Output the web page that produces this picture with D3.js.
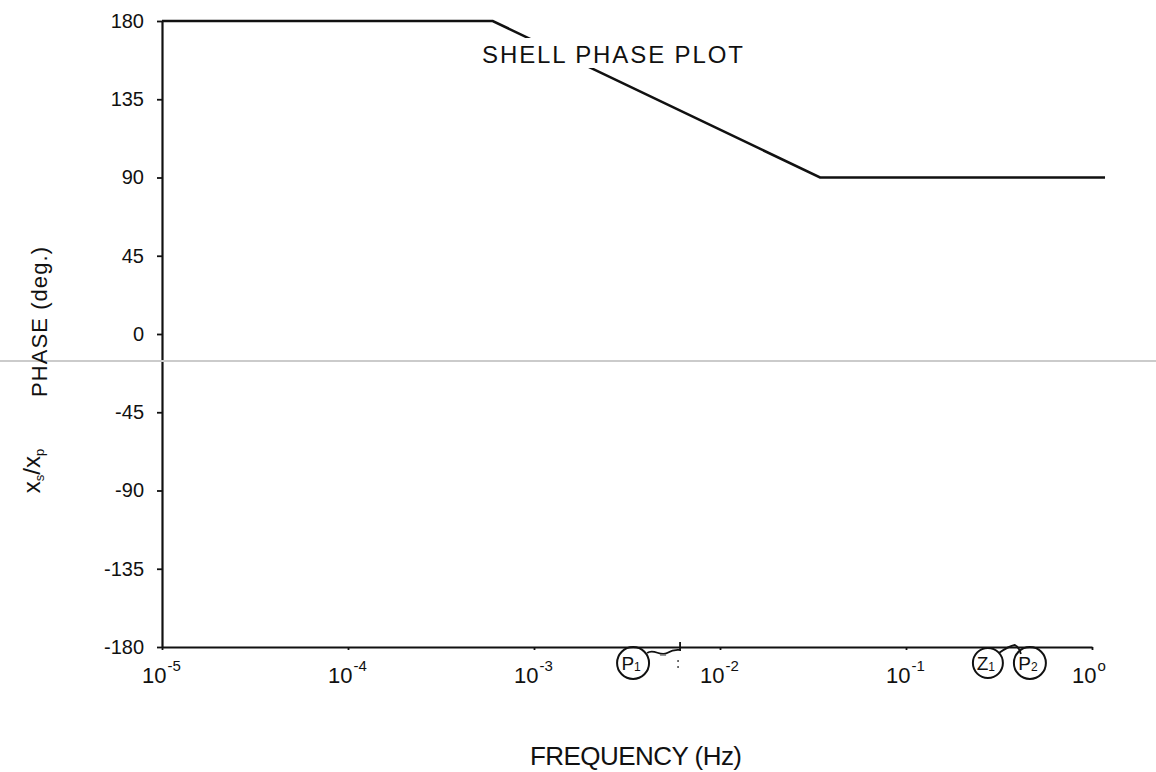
<!DOCTYPE html>
<html>
<head>
<meta charset="utf-8">
<script src="https://cdn.jsdelivr.net/npm/d3@7"></script>
<style>
  body { margin: 0; background: #fff; }
  text { font-family: "Liberation Sans", "DejaVu Sans", sans-serif; fill: #111; }
</style>
</head>
<body>
<div id="chart"></div>
<script>
// chart values
var freqTicks = [1e-5, 1e-4, 1e-3, 1e-2, 1e-1, 1];
var freqExponents = ["-5", "-4", "-3", "-2", "-1", "o"];
var phaseTicks = [180, 135, 90, 45, 0, -45, -90, -135, -180];

// asymptotic phase curve (break points)
var curveFreq = [1e-5, 6.0e-4, 0.0345, 1.175];
var curvePhase = [180, 180, 90, 90];

// pole / zero markers on the frequency axis
var markerFreq = [0.0061, 0.385];
var markerLabels = [[["P", "1"]], [["Z", "1"], ["P", "2"]]];

// faint fold line of the scanned page (phase value where it crosses)
var foldPhase = -15.5;

var svgWidth = 1156;
var svgHeight = 772;

var chartMargin = { top: 21, right: 64, bottom: 125, left: 162 };
var chartWidth = svgWidth - chartMargin.left - chartMargin.right;
var chartHeight = svgHeight - chartMargin.top - chartMargin.bottom;

var svg = d3.select("#chart")
    .append("svg")
    .attr("width", svgWidth)
    .attr("height", svgHeight);

svg.append("rect").attr("width", svgWidth).attr("height", svgHeight).attr("fill", "#fff");

var chartGroup = svg.append("g")
    .attr("transform", `translate(${chartMargin.left}, ${chartMargin.top})`);

var xScale = d3.scaleLog()
    .domain([1e-5, 1])
    .range([0, chartWidth]);

var yScale = d3.scaleLinear()
    .domain([-180, 180])
    .range([chartHeight, 0]);

// fold line across the whole page
svg.append("line")
    .attr("x1", 0).attr("x2", svgWidth)
    .attr("y1", chartMargin.top + yScale(foldPhase))
    .attr("y2", chartMargin.top + yScale(foldPhase))
    .attr("stroke", "#cbcbcb")
    .attr("stroke-width", 2);

// y axis
var yAxis = d3.axisLeft(yScale)
    .tickValues(phaseTicks)
    .tickSize(5)
    .tickSizeOuter(0)
    .tickPadding(13)
    .tickFormat(d => String(d));

var yG = chartGroup.append("g").call(yAxis);
yG.select(".domain").attr("stroke", "#111").attr("stroke-width", 2.2);
yG.selectAll(".tick line").attr("stroke", "#111").attr("stroke-width", 1.8);
yG.selectAll(".tick text")
    .style("font-size", "20px")
    .attr("fill", "#111");

// x axis
var xAxis = d3.axisBottom(xScale)
    .tickValues(freqTicks)
    .tickSize(3)
    .tickSizeOuter(0)
    .tickFormat("");

var xG = chartGroup.append("g")
    .attr("transform", `translate(0, ${chartHeight})`)
    .call(xAxis);
xG.select(".domain").attr("stroke", "#111").attr("stroke-width", 2.2);
xG.selectAll(".tick line").attr("stroke", "#111").attr("stroke-width", 1.8);

var xLabels = chartGroup.selectAll(".xlab")
    .data(freqTicks)
    .enter()
    .append("text")
    .attr("class", "xlab")
    .attr("x", d => xScale(d) - 20)
    .attr("y", chartHeight + 36)
    .style("font-size", "22px");
xLabels.append("tspan").text("10");
xLabels.append("tspan")
    .attr("dy", -12)
    .attr("dx", 1)
    .style("font-size", "15px")
    .text((d, i) => freqExponents[i]);

// phase curve
var line = d3.line()
    .x(d => xScale(d[0]))
    .y(d => yScale(d[1]));

chartGroup.append("path")
    .datum(curveFreq.map((f, i) => [f, curvePhase[i]]))
    .attr("d", line)
    .attr("fill", "none")
    .attr("stroke", "#111")
    .attr("stroke-width", 2.5);

// title, with a gap cut out of the curve behind it
svg.append("rect")
    .attr("x", 474).attr("y", 38)
    .attr("width", 280).attr("height", 30)
    .attr("fill", "#fff");

svg.append("text")
    .attr("x", 482)
    .attr("y", 63)
    .attr("textLength", 261)
    .style("font-size", "24px")
    .text("SHELL PHASE PLOT");

// y axis label
svg.append("text")
    .attr("transform", "translate(47, 322) rotate(-90)")
    .attr("text-anchor", "middle")
    .attr("textLength", 150)
    .style("font-size", "22px")
    .text("PHASE (deg.)");

var ratio = svg.append("text")
    .attr("transform", "translate(40, 471) rotate(-90)")
    .attr("text-anchor", "middle")
    .style("font-size", "24px");
ratio.append("tspan").text("x");
ratio.append("tspan").attr("dy", 4).style("font-size", "13px").text("s");
ratio.append("tspan").attr("dy", -4).text("/");
ratio.append("tspan").text("x");
ratio.append("tspan").attr("dy", 4).style("font-size", "13px").text("p");

// x axis label
svg.append("text")
    .attr("x", 530)
    .attr("y", 765)
    .attr("textLength", 212)
    .style("font-size", "26px")
    .text("FREQUENCY (Hz)");

// pole / zero markers
var axisY = chartMargin.top + chartHeight;

function circled(cx, cy, r, parts) {
    svg.append("circle")
        .attr("cx", cx).attr("cy", cy).attr("r", r)
        .attr("fill", "none")
        .attr("stroke", "#111")
        .attr("stroke-width", 2);
    var t = svg.append("text")
        .attr("x", cx - 2)
        .attr("y", cy + 7)
        .attr("text-anchor", "middle")
        .style("font-size", "19px");
    t.append("tspan").text(parts[0]);
    t.append("tspan").attr("dy", 1).style("font-size", "12px").text(parts[1]);
}

// P1 with its brace
var mx1 = chartMargin.left + xScale(markerFreq[0]);
circled(mx1 - 47, axisY + 16, 16, markerLabels[0][0]);
svg.append("path")
    .attr("d", `M${mx1 - 33},${axisY + 6} C${mx1 - 26},${axisY + 1} ${mx1 - 20},${axisY + 10} ${mx1 - 13},${axisY + 6}`
        + ` S${mx1 - 3},${axisY + 3} ${mx1},${axisY + 3} L${mx1},${axisY - 5}`)
    .attr("fill", "none")
    .attr("stroke", "#111")
    .attr("stroke-width", 1.8);
svg.append("line")
    .attr("x1", mx1 - 20).attr("x2", mx1 - 14)
    .attr("y1", axisY + 8).attr("y2", axisY + 8)
    .attr("stroke", "#777").attr("stroke-width", 1.5);
[14, 20].forEach(function (dy) {
    svg.append("circle")
        .attr("cx", mx1 - 2).attr("cy", axisY + dy).attr("r", 1)
        .attr("fill", "#444");
});

// Z1 and P2 joined at the axis
var mx2 = chartMargin.left + xScale(markerFreq[1]);
circled(mx2 - 27, axisY + 16, 15, markerLabels[1][0]);
circled(mx2 + 15, axisY + 16, 16, markerLabels[1][1]);
svg.append("path")
    .attr("d", `M${mx2 - 16},${axisY + 6} Q${mx2 - 6},${axisY - 1} ${mx2},${axisY - 2}`
        + ` Q${mx2 + 4},${axisY} ${mx2 + 6},${axisY + 7}`)
    .attr("fill", "none")
    .attr("stroke", "#111")
    .attr("stroke-width", 1.8);
</script>
</body>
</html>
